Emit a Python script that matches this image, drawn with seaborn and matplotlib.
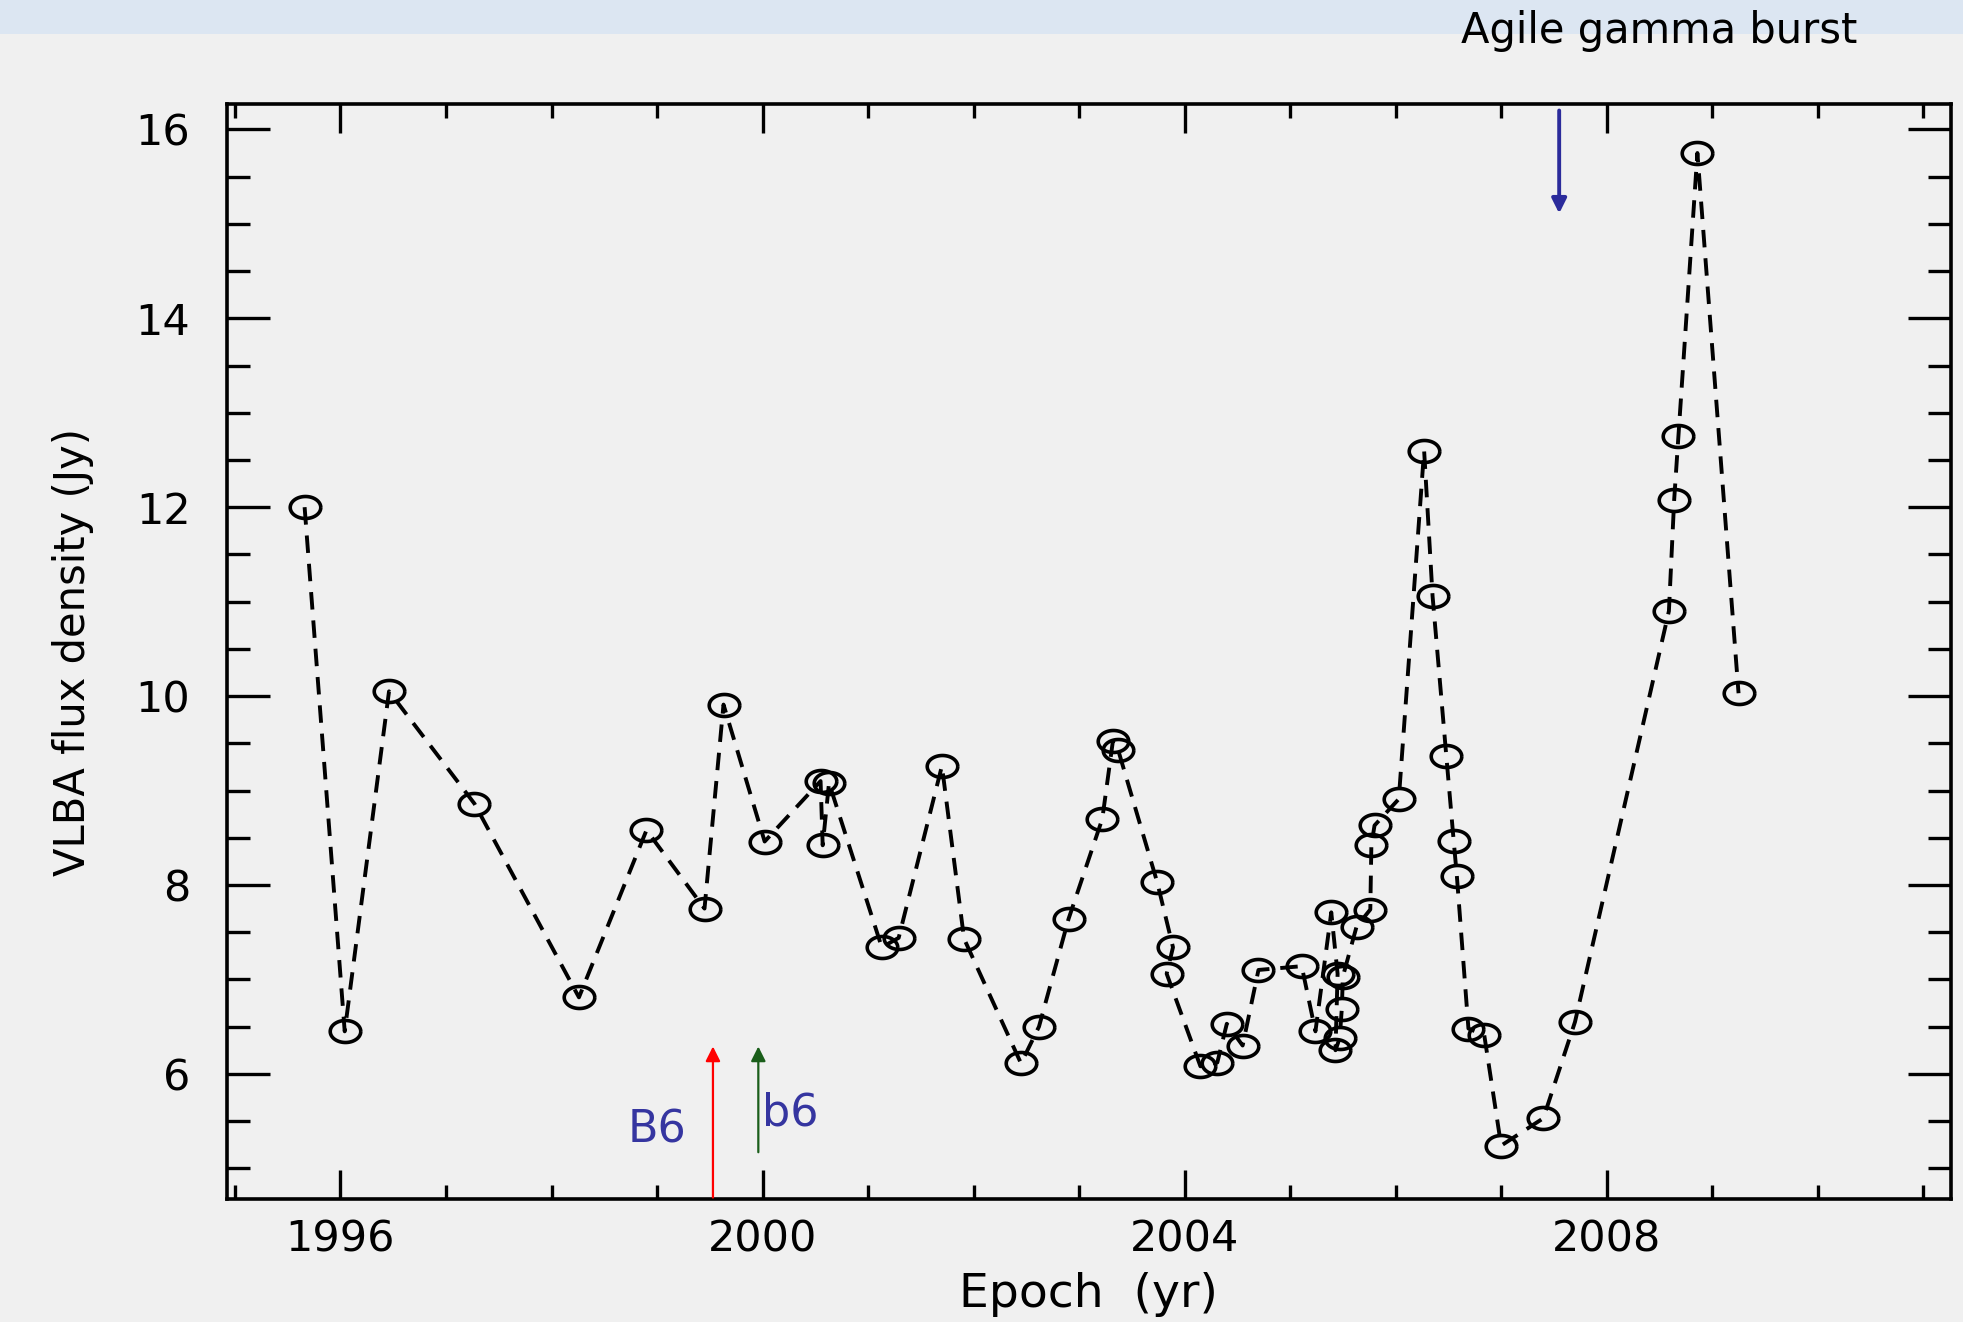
import numpy as np
import pandas as pd
import matplotlib
matplotlib.use("Agg")
import matplotlib.pyplot as plt
from matplotlib.path import Path
from matplotlib.patches import Rectangle
from matplotlib.ticker import FixedLocator, MultipleLocator
import seaborn as sns

# VLBA monitoring epochs (decimal year) and total flux density (Jy), in observing order
epoch = [
    1995.66, 1996.04, 1996.46, 1997.27, 1998.26, 1998.90, 1999.45, 1999.63,
    2000.02, 2000.55, 2000.57, 2000.63, 2001.13, 2001.29, 2001.70, 2001.91,
    2002.45, 2002.62, 2002.90, 2003.22, 2003.32, 2003.37, 2003.74, 2003.89,
    2003.83, 2004.15, 2004.31, 2004.40, 2004.55, 2004.70, 2005.11, 2005.24,
    2005.39, 2005.45, 2005.43, 2005.47, 2005.49, 2005.50, 2005.63, 2005.76,
    2005.77, 2005.80, 2006.03, 2006.27, 2006.35, 2006.48, 2006.55,
    2006.58, 2006.69, 2006.84, 2007.00, 2007.40, 2007.70, 2008.59, 2008.64,
    2008.68, 2008.86, 2009.25,
]
flux = [
    12.00, 6.45, 10.05, 8.86, 6.81, 8.58, 7.75, 9.91,
    8.46, 9.10, 8.42, 9.08, 7.34, 7.44, 9.26, 7.43,
    6.11, 6.50, 7.64, 8.70, 9.52, 9.43, 8.03, 7.34,
    7.06, 6.08, 6.12, 6.53, 6.30, 7.10, 7.14, 6.45,
    7.71, 7.06, 6.25, 6.38, 6.69, 7.03, 7.56, 7.74,
    8.42, 8.63, 8.91, 12.60, 11.06, 9.37, 8.47,
    8.10, 6.48, 6.41, 5.24, 5.53, 6.55, 10.90, 12.08,
    12.75, 15.75, 10.03,
]

x_major = [1996, 2000, 2004, 2008]
y_major = [6, 8, 10, 12, 14, 16]

# event markers
agile_epoch = 2007.55
b6_upper_epoch = 1999.53
b6_lower_epoch = 1999.96

df = pd.DataFrame({"epoch": epoch, "flux": flux})

sns.set_style("ticks")
plt.rcParams["font.family"] = ["DejaVu Sans"]
plt.rcParams.update({
    "text.color": "black",
    "axes.labelcolor": "black",
    "xtick.color": "black",
    "ytick.color": "black",
})

bg = "#f0f0f0"
fig = plt.figure(figsize=(19.63, 13.22), dpi=100, facecolor=bg)
fig.patches.append(Rectangle((0, 0.974), 1, 0.026, transform=fig.transFigure,
                             facecolor="#dce6f2", edgecolor="none", zorder=0))

ax = fig.add_axes([0.1154, 0.0927, 0.8783, 0.8287])
ax.set_facecolor(bg)

# slightly flattened open ellipse used as the point marker
theta = np.linspace(0, 2 * np.pi, 73)
ellipse = Path(np.column_stack([np.cos(theta), 0.72 * np.sin(theta)]))

sns.lineplot(data=df, x="epoch", y="flux", sort=False, estimator=None, ax=ax,
             color="black", lw=2.8, linestyle=(0, (4.5, 2.8)),
             marker=ellipse, markersize=22, markerfacecolor="none",
             markeredgecolor="black", markeredgewidth=2.6)

ax.set_xlim(1994.92, 2011.26)
ax.set_ylim(4.67, 16.27)

ax.xaxis.set_major_locator(FixedLocator(x_major))
ax.xaxis.set_minor_locator(MultipleLocator(1))
ax.yaxis.set_major_locator(FixedLocator(y_major))
ax.yaxis.set_minor_locator(MultipleLocator(0.5))

ax.tick_params(which="both", direction="in", top=True, right=True,
               color="black", width=2.4, labelsize=31)
ax.tick_params(axis="x", which="major", length=21, pad=14)
ax.tick_params(axis="x", which="minor", length=10)
ax.tick_params(axis="y", which="major", length=31, pad=26)
ax.tick_params(axis="y", which="minor", length=16.5)

for sp in ax.spines.values():
    sp.set_visible(True)
    sp.set_color("black")
    sp.set_linewidth(2.6)

ax.set_xlabel("Epoch  (yr)", fontsize=34, labelpad=8)
ax.set_ylabel("VLBA flux density (Jy)", fontsize=30, labelpad=30)

# Agile gamma-ray burst
ax.annotate("", xy=(agile_epoch, 15.11), xytext=(agile_epoch, 16.2),
            arrowprops=dict(arrowstyle="-|>", color="#2b2b9b", lw=2.8,
                            mutation_scale=22, shrinkA=0, shrinkB=0))
fig.text(0.845, 0.9766, "Agile gamma burst", ha="center", va="center",
         fontsize=30, color="black")

# B6 / b6 components
ax.annotate("", xy=(b6_upper_epoch, 6.29), xytext=(b6_upper_epoch, 4.69),
            arrowprops=dict(arrowstyle="-|>", color="#ff0000", lw=1.6,
                            mutation_scale=22, shrinkA=0, shrinkB=0))
ax.annotate("", xy=(b6_lower_epoch, 6.29), xytext=(b6_lower_epoch, 5.17),
            arrowprops=dict(arrowstyle="-|>", color="#1a5e1a", lw=1.6,
                            mutation_scale=22, shrinkA=0, shrinkB=0))
ax.text(1999.0, 5.41, "B6", color="#3535a0", fontsize=32, ha="center", va="center")
ax.text(2000.26, 5.59, "b6", color="#3535a0", fontsize=32, ha="center", va="center")

fig.savefig("out.png", dpi=100, facecolor=bg)
